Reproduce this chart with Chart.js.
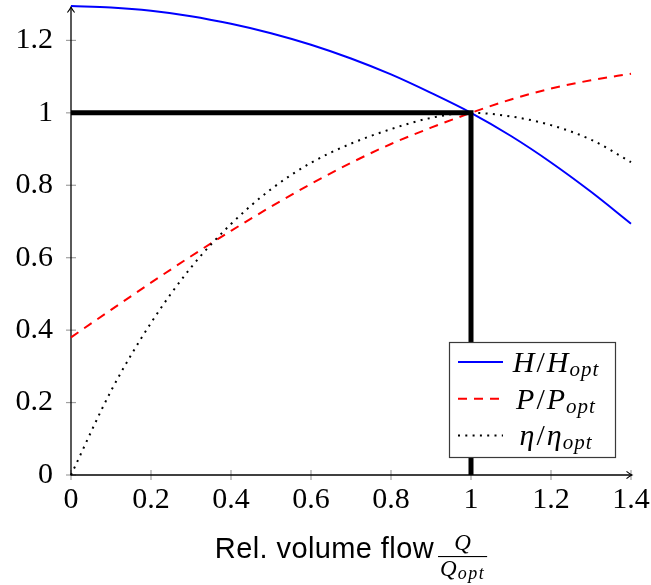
<!DOCTYPE html>
<html>
<head>
<meta charset="utf-8">
<script src="https://cdn.jsdelivr.net/npm/chart.js@4.4.0/dist/chart.umd.min.js"></script>
<style>
  html, body { margin: 0; padding: 0; background: #fff; }
  #wrap { width: 651px; height: 585px; }
</style>
</head>
<body>
<div id="wrap"><canvas id="pump" width="651" height="585"></canvas></div>
<script>
// Relative volume flow Q/Q_opt
const flow = [0, 0.1, 0.2, 0.3, 0.4, 0.5, 0.6, 0.7, 0.8, 0.9, 1.0, 1.1, 1.2, 1.3, 1.4];
// Relative head H/H_opt
const headRatio = [1.295, 1.291, 1.282, 1.267, 1.246, 1.220, 1.188, 1.150, 1.106, 1.055, 1.000, 0.936, 0.863, 0.782, 0.694];
// Relative shaft power P/P_opt
const powerRatio = [0.380, 0.456, 0.531, 0.604, 0.674, 0.741, 0.804, 0.862, 0.914, 0.959, 1.000, 1.037, 1.067, 1.090, 1.108];
// Relative efficiency eta/eta_opt
const effRatio = [0.000, 0.232, 0.420, 0.573, 0.693, 0.789, 0.862, 0.915, 0.955, 0.986, 1.000, 0.990, 0.966, 0.926, 0.864];
// Best efficiency point guide lines
const bepFlow = [0, 1, 1];
const bepLevel = [1, 1, 0];
// Axis ticks
const xTicks = [0, 0.2, 0.4, 0.6, 0.8, 1.0, 1.2, 1.4];
const yTicks = [0, 0.2, 0.4, 0.6, 0.8, 1.0, 1.2];
// Legend symbols (each shown as X/X_opt)
const seriesSymbols = ['H', 'P', 'η'];
const optSubscript = 'opt';
const xTitle = 'Rel. volume flow';
const fracNumerator = 'Q';

const pts = (xs, ys) => xs.map((v, i) => ({ x: v, y: ys[i] }));
const fmt = v => String(Math.round(v * 10) / 10);

const SERIF = '"Liberation Serif", "Times New Roman", serif';
const SANS = '"Liberation Sans", Arial, sans-serif';

function line(ctx, x1, y1, x2, y2) {
  ctx.beginPath(); ctx.moveTo(x1, y1); ctx.lineTo(x2, y2); ctx.stroke();
}

// axis lines with arrow tips and crossing tick marks
const axesPlugin = {
  id: 'pumpAxes',
  beforeDatasetsDraw(chart) {
    const { ctx, chartArea: a, scales: { x, y } } = chart;
    const x0 = x.getPixelForValue(0), y0 = y.getPixelForValue(0);
    ctx.save();
    ctx.strokeStyle = '#a0a0a0';
    ctx.lineWidth = 1.2;
    y.ticks.forEach(t => { const p = y.getPixelForValue(t.value); line(ctx, x0 - 5, p, x0 + 5, p); });
    x.ticks.forEach(t => { const p = x.getPixelForValue(t.value); line(ctx, p, y0 - 5, p, y0 + 5); });
    ctx.strokeStyle = '#000';
    ctx.lineWidth = 1.3;
    const topTip = a.top + 1, rightTip = a.right + 1;
    line(ctx, x0, y0, x0, topTip + 0.5);
    line(ctx, x0 - 0.6, y0, rightTip - 0.5, y0);
    ctx.lineWidth = 1.1;
    ctx.beginPath();
    ctx.moveTo(x0 - 3.6, topTip + 5.5);
    ctx.quadraticCurveTo(x0 - 0.8, topTip + 2, x0, topTip);
    ctx.quadraticCurveTo(x0 + 0.8, topTip + 2, x0 + 3.6, topTip + 5.5);
    ctx.stroke();
    ctx.beginPath();
    ctx.moveTo(rightTip - 5.5, y0 - 3.6);
    ctx.quadraticCurveTo(rightTip - 2, y0 - 0.8, rightTip, y0);
    ctx.quadraticCurveTo(rightTip - 2, y0 + 0.8, rightTip - 5.5, y0 + 3.6);
    ctx.stroke();
    ctx.restore();
  }
};

// draw a sequence of text runs starting at x on a common baseline
function setRunFont(ctx, r) {
  ctx.font = r.font;
  ctx.letterSpacing = (r.ls || 0) + 'px';
}
function runsWidth(ctx, runs) {
  let w = 0;
  runs.forEach(r => { setRunFont(ctx, r); w += ctx.measureText(r.t).width + (r.after || 0); });
  ctx.letterSpacing = '0px';
  return w;
}
function drawRuns(ctx, runs, x, base) {
  runs.forEach(r => {
    setRunFont(ctx, r);
    ctx.fillText(r.t, x, base + (r.dy || 0));
    x += ctx.measureText(r.t).width + (r.after || 0);
  });
  ctx.letterSpacing = '0px';
}

const legendPlugin = {
  id: 'pumpLegend',
  afterDraw(chart) {
    const { ctx, chartArea: a } = chart;
    const w = 167, h = 116;
    const right = a.right - 15, bottom = a.bottom - 17;
    const left = right - w, top = bottom - h;
    ctx.save();
    ctx.fillStyle = '#fff';
    ctx.fillRect(left, top, w, h);
    ctx.strokeStyle = '#3a3a3a';
    ctx.lineWidth = 1.2;
    ctx.strokeRect(left + 0.5, top + 0.5, w - 1, h - 1);
    const textCenter = left + 107;
    seriesSymbols.forEach((sym, i) => {
      const ds = chart.data.datasets[i];
      const cy = top + 20 + i * 36.7;
      ctx.strokeStyle = ds.borderColor;
      ctx.lineWidth = ds.borderWidth;
      ctx.setLineDash(ds.borderDash || []);
      line(ctx, left + 9, cy, left + 54, cy);
      ctx.setLineDash([]);
      const runs = [
        { t: sym, font: 'italic 30px ' + SERIF, after: 2 },
        { t: '/', font: '30px ' + SERIF, after: 2 },
        { t: sym, font: 'italic 30px ' + SERIF, after: 1 },
        { t: optSubscript, font: 'italic 21px ' + SERIF, ls: 1, dy: 4 }
      ];
      const tw = runsWidth(ctx, runs);
      ctx.fillStyle = '#000';
      ctx.textBaseline = 'alphabetic';
      drawRuns(ctx, runs, textCenter - tw / 2, cy + 10);
    });
    ctx.restore();
  }
};

// x-axis title with the Q / Q_opt fraction
const titlePlugin = {
  id: 'pumpTitle',
  afterDraw(chart) {
    const { ctx, chartArea: a } = chart;
    ctx.save();
    ctx.fillStyle = '#000';
    ctx.textBaseline = 'alphabetic';
    const title = [{ t: xTitle, font: '29px ' + SANS, ls: 0.4 }];
    const tw = runsWidth(ctx, title);
    const num = [{ t: fracNumerator, font: 'italic 23px ' + SERIF }];
    const den = [
      { t: fracNumerator, font: 'italic 23px ' + SERIF, after: 1 },
      { t: optSubscript, font: 'italic 18px ' + SERIF, ls: 1.5, dy: 3.5 }
    ];
    const nw = runsWidth(ctx, num), dw = runsWidth(ctx, den);
    const fw = Math.max(nw, dw) + 4;
    const gap = 4;
    const total = tw + gap + fw;
    const cx = (a.left + a.right) / 2;
    const x0 = cx - total / 2;
    const base = a.bottom + 83;
    drawRuns(ctx, title, x0, base);
    const fx = x0 + tw + gap;
    ctx.fillRect(fx, base - 2, fw, 1.1);
    drawRuns(ctx, num, fx + (fw - nw) / 2, base - 8);
    drawRuns(ctx, den, fx + (fw - dw) / 2, base + 17.5);
    ctx.restore();
  }
};

const tickFont = { family: SERIF, size: 30 };

new Chart(document.getElementById('pump'), {
  type: 'line',
  data: {
    datasets: [
      { label: 'H/H_opt', data: pts(flow, headRatio), borderColor: '#0000ff', borderWidth: 2, order: 3 },
      { label: 'P/P_opt', data: pts(flow, powerRatio), borderColor: '#ff0000', borderWidth: 2, borderDash: [9, 7], order: 2 },
      { label: 'η/η_opt', data: pts(flow, effRatio), borderColor: '#000000', borderWidth: 2, borderDash: [2, 5.3], order: 1 },
      { label: 'BEP', data: pts(bepFlow, bepLevel), borderColor: '#000000', borderWidth: 5, cubicInterpolationMode: 'default', tension: 0, borderJoinStyle: 'miter', order: 0 }
    ]
  },
  options: {
    responsive: false,
    animation: false,
    devicePixelRatio: 1,
    layout: { padding: { top: 6, right: 20, left: 0, bottom: 0 } },
    plugins: { legend: { display: false }, tooltip: { enabled: false } },
    elements: {
      point: { radius: 0, hoverRadius: 0 },
      line: { cubicInterpolationMode: 'monotone', fill: false, borderCapStyle: 'butt' }
    },
    datasets: { line: { clip: false } },
    scales: {
      x: {
        type: 'linear', min: 0, max: 1.4,
        grid: { display: false, drawTicks: false },
        border: { display: false },
        afterBuildTicks: s => { s.ticks = xTicks.map(v => ({ value: v })); },
        afterFit: s => { s.height = 110; s.paddingLeft = 0; s.paddingRight = 0; },
        ticks: { padding: 7, maxRotation: 0, autoSkip: false, color: '#000', font: tickFont, callback: v => fmt(v) }
      },
      y: {
        type: 'linear', min: 0, max: 1.295,
        grid: { display: false, drawTicks: false },
        border: { display: false },
        afterBuildTicks: s => { s.ticks = yTicks.map(v => ({ value: v })); },
        afterFit: s => { s.width = 71; s.paddingTop = 0; s.paddingBottom = 0; },
        ticks: { padding: 18, autoSkip: false, color: '#000', font: tickFont, callback: v => fmt(v) }
      }
    }
  },
  plugins: [axesPlugin, legendPlugin, titlePlugin]
});
</script>
</body>
</html>
